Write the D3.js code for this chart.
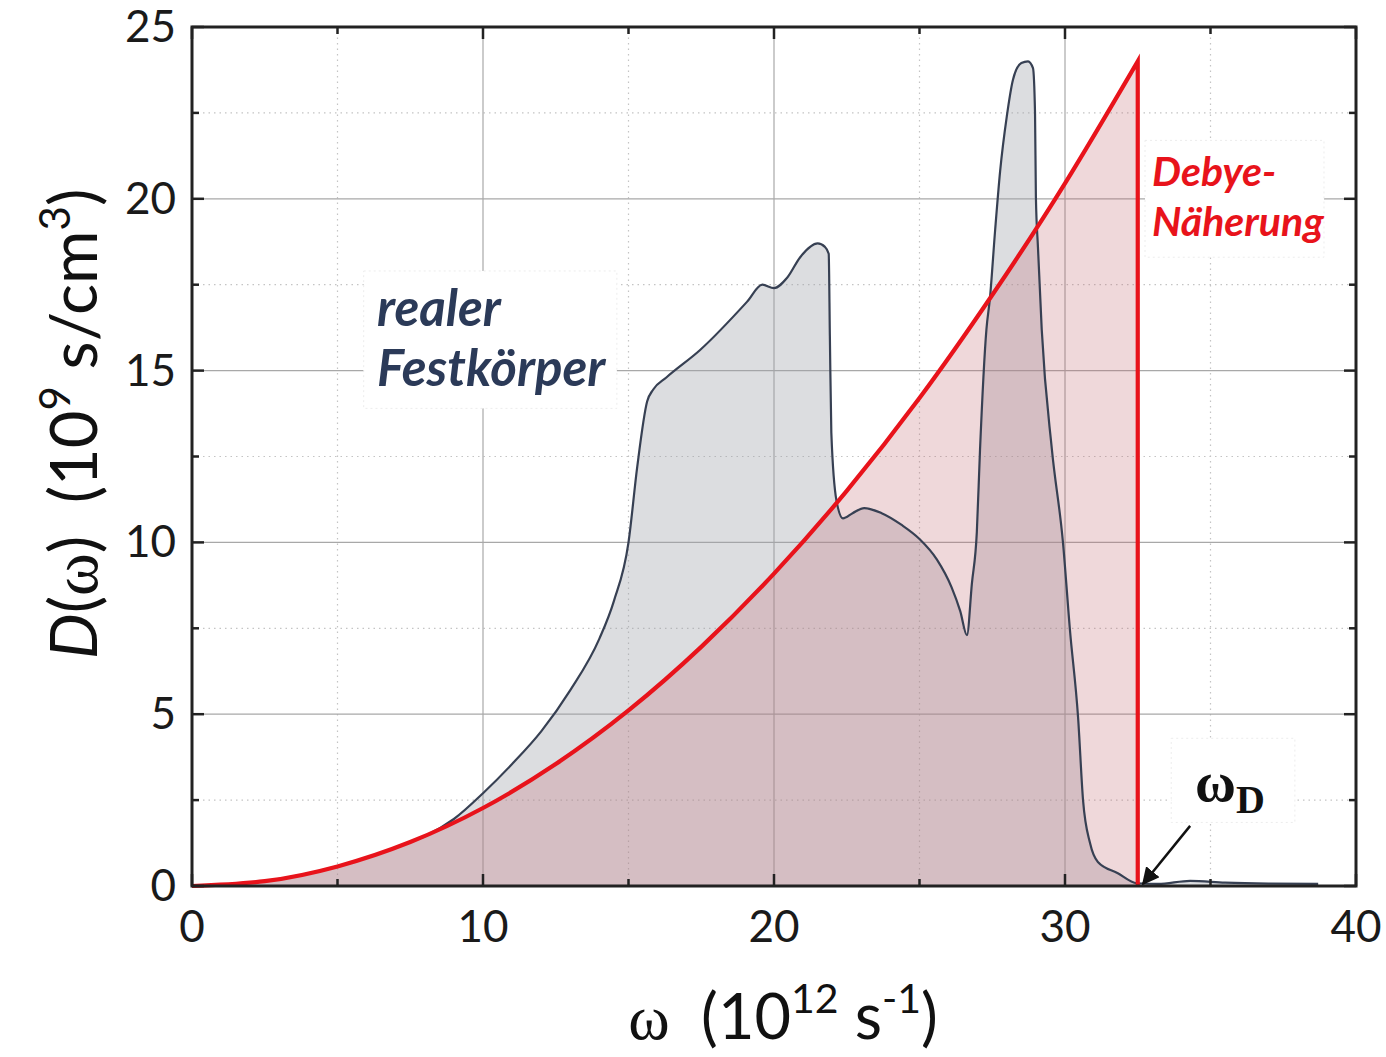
<!DOCTYPE html>
<html>
<head>
<meta charset="utf-8">
<script src="https://cdn.jsdelivr.net/npm/d3@7"></script>
<style>
  html, body { margin: 0; padding: 0; background: #fff; }
  svg { display: block; }
</style>
</head>
<body>
<svg id="chart" width="1386" height="1057"></svg>
<script>
// Phonon density of states D(ω): real solid vs. Debye approximation
const realOmega = [0, 2.5, 5, 7.5, 8, 9, 10, 11, 12, 13, 14, 14.5, 15, 15.3, 15.64, 15.85,
  16.3, 17.46, 19.07, 19.6, 20.0, 20.45, 20.9, 21.5, 21.75, 21.88, 21.92, 21.97, 22.15, 22.37,
  22.7, 23.1, 23.7, 24.4, 25.0, 25.6, 26.1, 26.4, 26.63, 26.8, 26.97, 27.08, 27.3, 27.42, 27.6, 27.77,
  28.0, 28.21, 28.5, 28.73, 28.9, 28.97, 29.0, 29.07, 29.2, 29.55, 29.93, 30.17, 30.45, 30.62,
  30.86, 31.13, 31.8, 32.47, 33.2, 34.3, 35.5, 37, 38.7];
const realD = [0, 0.14, 0.57, 1.28, 1.45, 1.95, 2.7, 3.55, 4.5, 5.7, 7.2, 8.3, 10.0, 12.2, 14.1, 14.45,
  14.8, 15.6, 17.0, 17.5, 17.4, 17.7, 18.3, 18.7, 18.6, 18.4, 16.0, 13.2, 11.2, 10.7,
  10.85, 11.0, 10.85, 10.5, 10.1, 9.5, 8.7, 8.0, 7.3, 8.8, 10.3, 12.7, 16.2, 17.1, 19.1, 20.8,
  22.4, 23.46, 23.95, 24.0, 23.8, 22.5, 20.05, 18.6, 16.2, 12.7, 10.0, 7.45, 4.9, 2.5,
  1.25, 0.7, 0.38, 0.08, 0.06, 0.15, 0.1, 0.07, 0.06];

const debyeOmega = [0, 2.5, 5, 7.5, 10, 12.5, 15, 17.5, 20, 22.5, 25, 27.5, 30, 32.5];
const debyeD = [0, 0.14, 0.57, 1.28, 2.27, 3.55, 5.11, 6.96, 9.09, 11.5, 14.2, 17.2, 20.45, 24.0];
const debyeCutoff = 32.5;   // ω_D

const xTicks = [0, 10, 20, 30, 40];
const yTicks = [0, 5, 10, 15, 20, 25];
const xMinor = [5, 15, 25, 35];
const yMinor = [2.5, 7.5, 12.5, 17.5, 22.5];

const W = 1386, H = 1057;
const m = { left: 192, top: 27, right: 30, bottom: 171 };
const pw = W - m.left - m.right, ph = H - m.top - m.bottom;

const svg = d3.select("#chart");
const x = d3.scaleLinear().domain([0, 40]).range([m.left, m.left + pw]);
const y = d3.scaleLinear().domain([0, 25]).range([m.top + ph, m.top]);

const real = realOmega.map((w, i) => ({ w, d: realD[i] }));
const debye = debyeOmega.map((w, i) => ({ w, d: debyeD[i] }));

// grid
const grid = svg.append("g");
grid.selectAll(".gxm").data(xMinor).join("line")
  .attr("x1", d => x(d)).attr("x2", d => x(d)).attr("y1", y(0)).attr("y2", y(25))
  .attr("stroke", "#c4c4c4").attr("stroke-width", 1.2).attr("stroke-dasharray", "1.5,4");
grid.selectAll(".gym").data(yMinor).join("line")
  .attr("y1", d => y(d)).attr("y2", d => y(d)).attr("x1", x(0)).attr("x2", x(40))
  .attr("stroke", "#c4c4c4").attr("stroke-width", 1.2).attr("stroke-dasharray", "1.5,4");
grid.selectAll(".gx").data(xTicks.slice(1, -1)).join("line")
  .attr("x1", d => x(d)).attr("x2", d => x(d)).attr("y1", y(0)).attr("y2", y(25))
  .attr("stroke", "#a8a8a8").attr("stroke-width", 1.2);
grid.selectAll(".gy").data(yTicks.slice(1, -1)).join("line")
  .attr("y1", d => y(d)).attr("y2", d => y(d)).attr("x1", x(0)).attr("x2", x(40))
  .attr("stroke", "#a8a8a8").attr("stroke-width", 1.2);

// label boxes (white, faint dotted border)
function box(x0, y0, x1, y1) {
  svg.append("rect").attr("x", x0).attr("y", y0).attr("width", x1 - x0).attr("height", y1 - y0)
    .attr("fill", "#fff").attr("stroke", "#ececec").attr("stroke-width", 1).attr("stroke-dasharray", "2,3");
}
box(x(5.9), y(17.9), x(14.6), y(13.9));
box(x(32.75), y(21.7), x(38.9), y(18.3));
box(x(33.65), y(4.3), x(37.9), y(1.85));

// fills
const areaReal = d3.area().x(d => x(d.w)).y0(y(0)).y1(d => y(d.d)).curve(d3.curveMonotoneX);
const lineReal = d3.line().x(d => x(d.w)).y(d => y(d.d)).curve(d3.curveMonotoneX);
const lineDebye = d3.line().x(d => x(d.w)).y(d => y(d.d)).curve(d3.curveNatural);

svg.append("path").datum(real).attr("d", areaReal).attr("fill", "rgba(158,162,170,0.36)");

const debyePath = lineDebye(debye) + `L${x(debyeCutoff)},${y(0)}L${x(0)},${y(0)}Z`;
svg.append("path").attr("d", debyePath).attr("fill", "rgba(192,100,106,0.25)");

svg.append("path").datum(real).attr("d", lineReal)
  .attr("fill", "none").attr("stroke", "#374053").attr("stroke-width", 2.2);

// Debye curve with cutoff edge
svg.append("path").attr("d", lineDebye(debye) + `L${x(debyeCutoff)},${y(0)}`)
  .attr("fill", "none").attr("stroke", "#e8131b").attr("stroke-width", 4.2).attr("stroke-linejoin", "miter");

// frame
svg.append("rect").attr("x", x(0)).attr("y", y(25)).attr("width", pw).attr("height", ph)
  .attr("fill", "none").attr("stroke", "#222").attr("stroke-width", 3);

// inward ticks on all four sides
const tk = svg.append("g").attr("stroke", "#222").attr("stroke-width", 2.5);
[[xTicks, 12], [xMinor, 7]].forEach(([arr, len]) => {
  arr.forEach(v => {
    tk.append("line").attr("x1", x(v)).attr("x2", x(v)).attr("y1", y(0)).attr("y2", y(0) - len);
    tk.append("line").attr("x1", x(v)).attr("x2", x(v)).attr("y1", y(25)).attr("y2", y(25) + len);
  });
});
[[yTicks, 12], [yMinor, 7]].forEach(([arr, len]) => {
  arr.forEach(v => {
    tk.append("line").attr("y1", y(v)).attr("y2", y(v)).attr("x1", x(0)).attr("x2", x(0) + len);
    tk.append("line").attr("y1", y(v)).attr("y2", y(v)).attr("x1", x(40)).attr("x2", x(40) - len);
  });
});

// tick labels
const font = "Lato, 'Open Sans', sans-serif";
svg.selectAll(".xl").data(xTicks).join("text")
  .attr("x", d => x(d)).attr("y", y(0) + 56).attr("text-anchor", "middle")
  .attr("font-family", font).attr("font-size", 44).attr("fill", "#1a1a1a").text(d => d);
svg.selectAll(".yl").data(yTicks).join("text")
  .attr("x", x(0) - 16).attr("y", d => y(d) + 15).attr("text-anchor", "end")
  .attr("font-family", font).attr("font-size", 44).attr("fill", "#1a1a1a").text(d => d);

// axis titles
const serif = "'Liberation Serif', 'DejaVu Serif', serif";
const xt = svg.append("text").attr("x", 783).attr("y", 1039).attr("text-anchor", "middle")
  .attr("font-family", font).attr("font-size", 63).attr("fill", "#111");
xt.append("tspan").attr("font-family", serif).text("ω");
xt.append("tspan").text("\u2002(10");
xt.append("tspan").attr("font-size", 41).attr("dy", -26).text("12");
xt.append("tspan").attr("dy", 26).text(" s");
xt.append("tspan").attr("font-size", 41).attr("dy", -26).text("-1");
xt.append("tspan").attr("dy", 26).text(")");

const yt = svg.append("text").attr("transform", "translate(97,424) rotate(-90)")
  .attr("text-anchor", "middle").attr("font-family", font).attr("font-size", 65).attr("fill", "#111");
yt.append("tspan").attr("font-style", "italic").text("D");
yt.append("tspan").text("(");
yt.append("tspan").attr("font-family", serif).text("ω");
yt.append("tspan").text(")\u2002(10");
yt.append("tspan").attr("font-size", 42).attr("dy", -27).text("9");
yt.append("tspan").attr("dy", 27).text(" s/cm");
yt.append("tspan").attr("font-size", 42).attr("dy", -27).text("3");
yt.append("tspan").attr("dy", 27).text(")");

// annotations
const navy = "#2b3a58";
svg.append("text").attr("x", 377).attr("y", 326).attr("font-family", font)
  .attr("font-weight", 700).attr("font-style", "italic").attr("font-size", 51).attr("fill", navy).text("realer");
svg.append("text").attr("x", 377).attr("y", 386).attr("font-family", font)
  .attr("font-weight", 700).attr("font-style", "italic").attr("font-size", 51).attr("fill", navy).text("Festkörper");

svg.append("text").attr("x", 1152).attr("y", 186).attr("font-family", font)
  .attr("font-weight", 700).attr("font-style", "italic").attr("font-size", 41).attr("fill", "#e8131b").text("Debye-");
svg.append("text").attr("x", 1152).attr("y", 236).attr("font-family", font)
  .attr("font-weight", 700).attr("font-style", "italic").attr("font-size", 41).attr("fill", "#e8131b").text("Näherung");

const wd = svg.append("text").attr("x", 1195).attr("y", 801)
  .attr("font-family", serif).attr("font-weight", 700)
  .attr("font-size", 56).attr("fill", "#111");
wd.append("tspan").text("ω");
wd.append("tspan").attr("font-size", 40).attr("dy", 12).text("D");

// arrow pointing at ω_D
svg.append("defs").append("marker").attr("id", "ah").attr("viewBox", "0 0 10 10")
  .attr("refX", 9).attr("refY", 5).attr("markerWidth", 7).attr("markerHeight", 7)
  .attr("orient", "auto-start-reverse").attr("markerUnits", "strokeWidth")
  .append("path").attr("d", "M0,0 L10,5 L0,10 Z").attr("fill", "#111");
svg.append("line").attr("x1", x(34.3)).attr("y1", y(1.75)).attr("x2", x(32.68)).attr("y2", y(0.06))
  .attr("stroke", "#111").attr("stroke-width", 2.5).attr("marker-end", "url(#ah)");
</script>
</body>
</html>
